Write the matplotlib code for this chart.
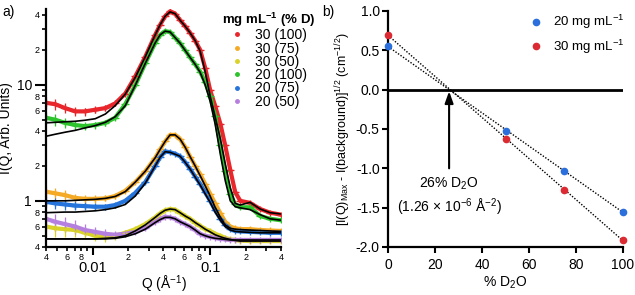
import numpy as np
import matplotlib
matplotlib.use("Agg")
import matplotlib.pyplot as plt
from matplotlib.lines import Line2D
from matplotlib.ticker import FixedLocator, FixedFormatter

plt.rcParams['font.family'] = ['Liberation Sans', 'DejaVu Sans']
plt.rcParams['mathtext.fontset'] = 'custom'
plt.rcParams['mathtext.rm'] = 'Liberation Sans'
plt.rcParams['mathtext.it'] = 'Liberation Sans:italic'
plt.rcParams['mathtext.bf'] = 'Liberation Sans:bold'

# ---------------- panel a data ----------------
q = [0.0040, 0.0048, 0.0058, 0.0071, 0.0086, 0.0105, 0.0128, 0.0155, 0.0189, 0.0230,
     0.0280, 0.0340, 0.0375, 0.0413, 0.0455, 0.0502, 0.0554, 0.0611, 0.0674, 0.0744,
     0.0820, 0.0905, 0.0998, 0.110, 0.122, 0.134, 0.148, 0.163, 0.180, 0.218,
     0.266, 0.323, 0.400]

i_30_100 = [7.0, 6.8, 6.3, 5.9, 5.9, 6.1, 6.3, 6.9, 8.4, 11.8, 17.5, 27, 33, 39, 43, 41, 36, 32,
            28, 24, 20, 14, 9.0, 6.6, 4.6, 3.0, 1.85, 1.19, 1.0, 0.96, 0.85, 0.79, 0.76]
i_30_75 = [1.2, 1.16, 1.12, 1.06, 1.04, 1.04, 1.05, 1.10, 1.22, 1.45, 1.8, 2.35, 2.78, 3.25, 3.7,
           3.7, 3.4, 2.9, 2.4, 2.0, 1.7, 1.4, 1.15, 0.95, 0.78, 0.66, 0.60, 0.58, 0.57, 0.57,
           0.56, 0.555, 0.55]
i_30_50 = [0.60, 0.58, 0.57, 0.56, 0.53, 0.50, 0.49, 0.50, 0.53, 0.57, 0.63, 0.72, 0.78, 0.83,
           0.85, 0.84, 0.79, 0.74, 0.70, 0.65, 0.61, 0.57, 0.55, 0.52, 0.50, 0.48, 0.465, 0.46,
           0.455, 0.45, 0.45, 0.45, 0.45]
i_20_100 = [5.2, 5.0, 4.7, 4.5, 4.4, 4.5, 4.7, 5.2, 6.8, 9.9, 15.3, 23, 27, 29, 28.5, 25.5, 22.8,
            19.8, 17.2, 15.0, 13.0, 10.5, 8.0, 5.4, 3.0, 1.8, 1.15, 0.93, 0.88, 0.88, 0.74,
            0.70, 0.68]
i_20_75 = [0.98, 0.95, 0.93, 0.91, 0.90, 0.89, 0.89, 0.92, 1.0, 1.17, 1.45, 2.0, 2.38, 2.67,
           2.62, 2.55, 2.42, 2.15, 1.88, 1.62, 1.40, 1.18, 1.0, 0.83, 0.70, 0.62, 0.57, 0.55,
           0.545, 0.54, 0.535, 0.53, 0.53]
i_20_50 = [0.70, 0.66, 0.63, 0.60, 0.56, 0.54, 0.52, 0.51, 0.52, 0.54, 0.58, 0.66, 0.70, 0.73,
           0.72, 0.70, 0.66, 0.63, 0.60, 0.56, 0.52, 0.50, 0.49, 0.48, 0.47, 0.465, 0.46, 0.46,
           0.46, 0.46, 0.46, 0.46, 0.46]

fit_30_100 = [4.7, 4.75, 4.8, 4.85, 4.95, 5.1, 5.6, 6.6, 8.3, 11.6, 17.5, 27, 33, 39, 42.5, 41,
              36, 32, 28, 24, 19.5, 13, 8.0, 5.3, 3.4, 2.1, 1.3, 0.95, 0.92, 0.97, 0.85, 0.79, 0.77]
fit_30_75 = [1.0, 1.0, 1.0, 1.01, 1.02, 1.03, 1.05, 1.09, 1.2, 1.45, 1.8, 2.35, 2.78, 3.25, 3.7,
             3.7, 3.4, 2.9, 2.4, 2.0, 1.65, 1.35, 1.1, 0.88, 0.72, 0.62, 0.58, 0.57, 0.565,
             0.56, 0.555, 0.55, 0.545]
fit_30_50 = [0.47, 0.47, 0.47, 0.47, 0.47, 0.47, 0.475, 0.48, 0.50, 0.55, 0.62, 0.72, 0.78, 0.83,
             0.85, 0.84, 0.79, 0.74, 0.70, 0.65, 0.61, 0.57, 0.54, 0.51, 0.49, 0.475, 0.465,
             0.455, 0.45, 0.45, 0.45, 0.45, 0.45]
fit_20_100 = [3.6, 3.75, 3.9, 4.05, 4.25, 4.45, 4.75, 5.3, 6.6, 9.9, 15.3, 23, 27, 29, 28.5, 25.5,
              22.8, 19.8, 17.2, 15.0, 12.8, 10.0, 7.2, 4.6, 2.5, 1.5, 1.0, 0.89, 0.87, 0.84,
              0.76, 0.70, 0.68]
fit_20_75 = [0.79, 0.795, 0.80, 0.80, 0.81, 0.82, 0.84, 0.87, 0.93, 1.1, 1.42, 2.0, 2.38, 2.65,
             2.62, 2.52, 2.42, 2.15, 1.88, 1.6, 1.37, 1.15, 0.97, 0.80, 0.68, 0.60, 0.56, 0.545,
             0.54, 0.535, 0.53, 0.53, 0.53]
fit_20_50 = [0.47, 0.47, 0.47, 0.47, 0.47, 0.47, 0.47, 0.475, 0.49, 0.52, 0.57, 0.65, 0.69, 0.72,
             0.72, 0.70, 0.66, 0.63, 0.60, 0.56, 0.52, 0.50, 0.485, 0.475, 0.47, 0.465, 0.46,
             0.46, 0.46, 0.46, 0.46, 0.46, 0.46]

rel_err = [0.12, 0.11, 0.10, 0.09, 0.08, 0.07, 0.06, 0.05, 0.04, 0.03, 0.02, 0.015, 0.012, 0.01,
           0.01, 0.01, 0.01, 0.01, 0.01, 0.01, 0.01, 0.01, 0.01, 0.01, 0.015, 0.02, 0.02, 0.02,
           0.02, 0.02, 0.02, 0.02, 0.02]

labels_a = ['30 (100)', '30 (75)', '30 (50)', '20 (100)', '20 (75)', '20 (50)']
colors_a = ['#e8262b', '#f5aa25', '#d9d328', '#2cc32c', '#2474dc', '#b57fdf']
err_scale = [1.0, 1.0, 1.5, 1.0, 1.0, 1.5]

# ---------------- panel b data ----------------
pct_d2o = [0, 50, 75, 100]
val_20 = [0.56, -0.53, -1.03, -1.55]
val_30 = [0.70, -0.63, -1.27, -1.91]

# ---------------- figure ----------------
W, H = 635, 295
fig = plt.figure(figsize=(W / 100, H / 100), dpi=100)
axL = fig.add_axes([46 / W, 1 - 247 / H, 235 / W, (247 - 9) / H])
axR = fig.add_axes([388 / W, 1 - 247 / H, 235 / W, (247 - 11) / H])

data_sets = [i_30_100, i_30_75, i_30_50, i_20_100, i_20_75, i_20_50]
fit_sets = [fit_30_100, fit_30_75, fit_30_50, fit_20_100, fit_20_75, fit_20_50]
qa = np.array(q)
for data, col, sc in zip(data_sets, colors_a, err_scale):
    d = np.array(data)
    e = d * np.array(rel_err) * sc
    axL.plot(qa, d, color=col, lw=3.0, solid_capstyle='round', zorder=2)
    axL.errorbar(qa, d, yerr=e, xerr=qa * 0.08, fmt='+', color=col, ms=5, mew=1.0,
                 elinewidth=0.9, capsize=0, zorder=2)
for fit in fit_sets:
    axL.plot(qa, fit, color='black', lw=1.2, zorder=3)

axL.set_xscale('log')
axL.set_yscale('log')
axL.set_xlim(0.004, 0.4)
axL.set_ylim(0.4, 45)
for s in ['top', 'right']:
    axL.spines[s].set_visible(False)
for s in ['left', 'bottom']:
    axL.spines[s].set_linewidth(1.6)

axL.xaxis.set_major_locator(FixedLocator([0.01, 0.1]))
axL.xaxis.set_major_formatter(FixedFormatter(['0.01', '0.1']))
xminor = [0.004, 0.005, 0.006, 0.007, 0.008, 0.009, 0.02, 0.03, 0.04, 0.05, 0.06, 0.07,
          0.08, 0.09, 0.2, 0.3, 0.4]
xminor_lab = ['4', '', '6', '', '8', '', '2', '', '4', '', '6', '', '8', '', '2', '', '4']
axL.xaxis.set_minor_locator(FixedLocator(xminor))
axL.xaxis.set_minor_formatter(FixedFormatter(xminor_lab))
axL.tick_params(axis='x', which='major', direction='out', length=6, width=1.5,
                labelsize=10.5, pad=4)
axL.tick_params(axis='x', which='minor', direction='out', length=3, width=1.2,
                labelsize=6.5, pad=1)

axL.yaxis.set_major_locator(FixedLocator([1, 10]))
axL.yaxis.set_major_formatter(FixedFormatter(['1', '10']))
yminor = [0.4, 0.5, 0.6, 0.7, 0.8, 0.9, 2, 3, 4, 5, 6, 7, 8, 9, 20, 30, 40]
yminor_lab = ['4', '', '6', '', '8', '', '2', '', '4', '', '6', '', '8', '', '2', '', '4']
axL.yaxis.set_minor_locator(FixedLocator(yminor))
axL.yaxis.set_minor_formatter(FixedFormatter(yminor_lab))
axL.tick_params(axis='y', which='major', direction='out', length=8, width=1.5,
                labelsize=10, pad=2)
axL.tick_params(axis='y', which='minor', direction='out', length=3, width=1.2,
                labelsize=6.5, pad=1.5)

axL.set_xlabel('Q (Å$^{-1}$)', fontsize=10, labelpad=-1)
axL.set_ylabel('I(Q, Arb. Units)', fontsize=10, labelpad=3)

handles = [Line2D([], [], marker='o', ls='none', color=c, ms=2.5) for c in colors_a]
leg = axL.legend(handles, labels_a, loc='upper left', bbox_to_anchor=(212 / W, 1 - 1 / H),
                 bbox_transform=fig.transFigure, frameon=False, fontsize=10,
                 title=r'mg mL$^{\mathbf{-1}}$ (% D)',
                 title_fontproperties={'weight': 'bold', 'size': 9.5},
                 handlelength=1.0, handletextpad=0.8, labelspacing=-0.05, borderpad=0.2)
leg._legend_box.align = 'center'

fig.text(2 / W, 1 - 12 / H, 'a)', fontsize=10, va='center', ha='left')
fig.text(322 / W, 1 - 12 / H, 'b)', fontsize=10, va='center', ha='left')

# ---------------- panel b ----------------
col20, col30 = '#2b6fdc', '#dc2a32'
xx = np.array([0.0, 100.0])
for vals in (val_20, val_30):
    c = np.polyfit(pct_d2o, vals, 1)
    axR.plot(xx, np.polyval(c, xx), color='black', ls=(0, (1, 1.2)), lw=1.0, zorder=2)
axR.axhline(0, color='black', lw=2.0, zorder=1)
axR.plot(pct_d2o, val_20, 'o', color=col20, ms=4.5, clip_on=False, zorder=3,
         label='20 mg mL$^{-1}$')
axR.plot(pct_d2o, val_30, 'o', color=col30, ms=4.5, clip_on=False, zorder=3,
         label='30 mg mL$^{-1}$')
axR.set_xlim(0, 100)
axR.set_ylim(-2.0, 1.0)
axR.set_xticks([0, 20, 40, 60, 80, 100])
axR.set_yticks([-2.0, -1.5, -1.0, -0.5, 0.0, 0.5, 1.0])
axR.set_yticklabels(['-2.0', '-1.5', '-1.0', '-0.5', '0.0', '0.5', '1.0'])
for s in ['top', 'right']:
    axR.spines[s].set_visible(False)
for s in ['left', 'bottom']:
    axR.spines[s].set_linewidth(1.6)
axR.tick_params(axis='both', direction='out', length=4, width=1.5, labelsize=10)
axR.tick_params(axis='x', pad=4)
axR.tick_params(axis='y', pad=2)
axR.set_xlabel('% D$_2$O', fontsize=10, labelpad=2)
axR.set_ylabel(r'[I(Q)$_{\mathrm{Max}}$ - I(background)]$^{1/2}$ (cm$^{-1/2}$)', fontsize=9,
               labelpad=2)
axR.legend(loc='upper right', bbox_to_anchor=(1.05, 1.035), frameon=False, fontsize=9.5,
           handlelength=1.0, handletextpad=0.8, labelspacing=0.45, borderpad=0.3)

axR.annotate('', xy=(26, -0.02), xytext=(26, -1.0),
             arrowprops=dict(arrowstyle='-|>,head_width=0.25,head_length=0.7', color='black',
                             lw=1.5, shrinkA=0, shrinkB=0))
axR.text(26, -1.2, '26% D$_2$O', ha='center', va='center', fontsize=10)
axR.text(26, -1.5, '(1.26 × 10$^{-6}$ Å$^{-2}$)', ha='center', va='center', fontsize=10)

fig.savefig('out.png', dpi=100)
